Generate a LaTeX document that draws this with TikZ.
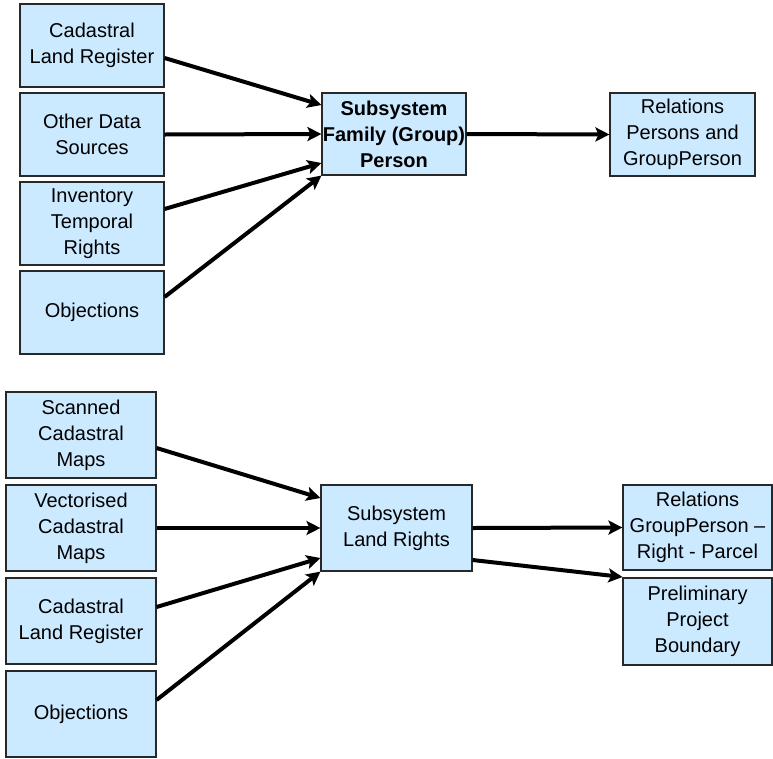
\documentclass[tikz,border=0pt]{standalone}
\usepackage{fontspec}
\setmainfont{Liberation Sans}
\usetikzlibrary{arrows.meta}
\definecolor{boxfill}{RGB}{204,234,255}
\definecolor{boxline}{RGB}{40,40,40}
\tikzset{
  box/.style={draw=boxline, line width=1.1pt, fill=boxfill, inner sep=0pt,
    align=center, font=\fontsize{20}{26}\selectfont},
  conn/.style={line width=4pt, -{Stealth[length=14pt,width=14pt,inset=3pt]}},
}
\begin{document}
\begin{tikzpicture}[x=1pt,y=-1pt]
\useasboundingbox (0,0) rectangle (773,758);
% top group
\node[box, minimum width=144pt, minimum height=83pt] (T1) at (92,45.5) {Cadastral\\Land Register};
\node[box, minimum width=144pt, minimum height=83pt] (T2) at (92,134.5) {Other Data\\Sources};
\node[box, minimum width=144pt, minimum height=83pt] (T3) at (92,223.5) {Inventory\\Temporal\\Rights};
\node[box, minimum width=144pt, minimum height=83pt] (T4) at (92,312.5) {Objections};
\node[box, minimum width=144pt, minimum height=82pt, font=\fontsize{20}{26}\selectfont\bfseries] (TM) at (394,134) {Subsystem\\\makebox[0pt]{Family (Group)}\\Person};
\node[box, minimum width=145pt, minimum height=83pt] (TR) at (682.5,134.5) {Relations\\Persons and\\GroupPerson};
\draw[conn] ([yshift=-12.5pt]T1.east) -- ([yshift=29pt]TM.west);
\draw[conn] (T2.east) -- (TM.west);
\draw[conn] ([yshift=14.5pt]T3.east) -- ([yshift=-29pt]TM.west);
\draw[conn] ([yshift=15.5pt]T4.east) -- (TM.south west);
\draw[conn] (TM.east) -- (TR.west);
% bottom group
\node[box, minimum width=150pt, minimum height=86pt] (B1) at (81,435) {Scanned\\Cadastral\\Maps};
\node[box, minimum width=150pt, minimum height=86pt] (B2) at (81,528) {Vectorised\\Cadastral\\Maps};
\node[box, minimum width=150pt, minimum height=86pt] (B3) at (81,621) {Cadastral\\Land Register};
\node[box, minimum width=150pt, minimum height=86pt] (B4) at (81,714) {Objections};
\node[box, minimum width=151pt, minimum height=86pt] (BM) at (396.5,528) {Subsystem\\Land Rights};
\node[box, minimum width=149pt, minimum height=85pt] (BR1) at (697.5,527.5) {Relations\\\makebox[0pt]{GroupPerson –}\\Right - Parcel};
\node[box, minimum width=149pt, minimum height=87pt] (BR2) at (697.5,621.5) {Preliminary\\Project\\Boundary};
\draw[conn] ([yshift=-13pt]B1.east) -- ([yshift=30pt]BM.west);
\draw[conn] (B2.east) -- (BM.west);
\draw[conn] ([yshift=14pt]B3.east) -- ([yshift=-30pt]BM.west);
\draw[conn] ([yshift=14pt]B4.east) -- (BM.south west);
\draw[conn] (BM.east) -- (BR1.west);
\draw[conn] ([yshift=-32pt]BM.east) -- ([yshift=44.5pt]BR2.west);
\end{tikzpicture}
\end{document}
